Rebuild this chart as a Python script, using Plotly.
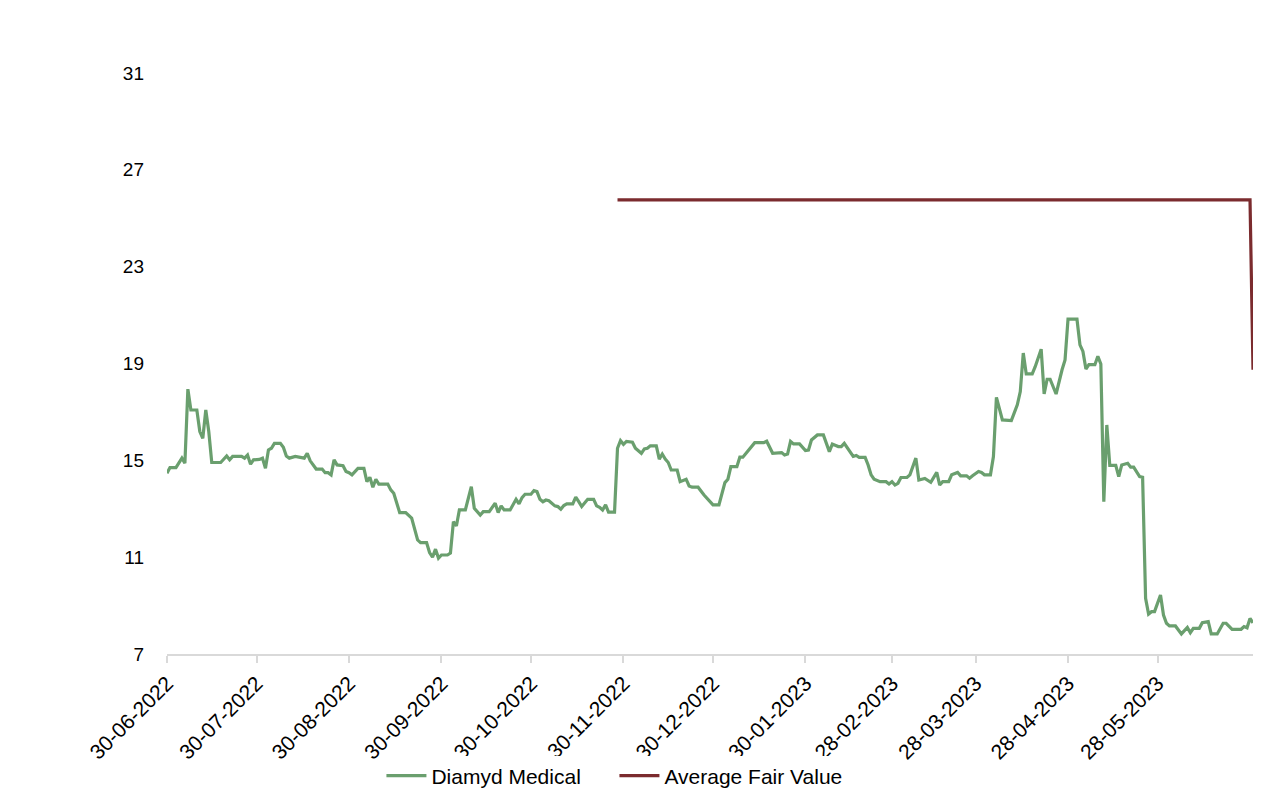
import pandas as pd
import plotly.graph_objects as go

START = "2022-06-30"

# Diamyd Medical share price: days since 30-06-2022 and closing value
price_days = [0, 1, 3, 5, 6, 7, 8, 10, 11, 12, 13, 14, 15, 18, 20, 21, 22, 25, 26, 27, 28, 29, 31, 32, 33, 34, 35, 36, 38, 39,
              40, 41, 43, 45, 46, 47, 48, 50, 52, 53, 54, 55, 56, 57, 59, 60, 61, 62, 64, 66, 67, 68, 69, 70, 71, 74, 75, 76, 78, 80,
              82, 84, 85, 87, 88, 89, 90, 91, 92, 94, 95, 96, 97, 98, 100, 102, 103, 105, 106, 108, 110, 111, 112, 113, 115, 117, 118, 119, 120, 122,
              123, 124, 125, 126, 127, 128, 130, 131, 132, 133, 134, 136, 137, 138, 139, 141, 143, 144, 145, 146, 147, 148, 150, 151, 152, 153, 154, 156, 157, 159,
              160, 161, 162, 164, 165, 166, 167, 168, 169, 171, 172, 174, 175, 176, 178, 180, 182, 183, 185, 187, 188, 189, 191, 192, 193, 195, 197, 200, 201, 203,
              204, 206, 207, 208, 209, 210, 212, 214, 215, 216, 218, 220, 222, 223, 225, 226, 227, 230, 231, 232, 234, 235, 236, 237, 239, 241, 242, 243, 244, 245,
              246, 248, 249, 251, 252, 254, 256, 258, 259, 260, 262, 263, 265, 266, 268, 269, 270, 272, 273, 274, 276, 277, 278, 280, 283, 285, 286, 287, 288, 290,
              291, 293, 294, 295, 296, 298, 300, 301, 302, 305, 306, 307, 308, 309, 311, 312, 313, 314, 315, 316, 318, 319, 320, 322, 323, 324, 326, 327, 328, 329,
              330, 331, 333, 334, 335, 336, 338, 340, 342, 343, 344, 346, 347, 349, 350, 352, 354, 355, 357, 360, 361, 362, 363, 364]
price_values = [14.47, 14.70, 14.70, 15.09, 14.88, 17.94, 17.08, 17.08, 16.19, 15.91, 17.08, 16.19, 14.91, 14.91, 15.18, 15.02, 15.16, 15.16, 15.09, 15.22, 14.84, 15.02, 15.04, 15.09, 14.67, 15.43, 15.50, 15.70, 15.70, 15.54,
                15.18, 15.09, 15.16, 15.13, 15.09, 15.29, 14.98, 14.64, 14.64, 14.49, 14.49, 14.40, 15.02, 14.81, 14.78, 14.54, 14.49, 14.40, 14.67, 14.67, 14.12, 14.30, 13.89, 14.22, 14.02, 14.02, 13.78, 13.64, 12.84, 12.84,
                12.61, 11.71, 11.60, 11.60, 11.19, 11.00, 11.33, 10.96, 11.09, 11.09, 11.17, 12.47, 12.29, 12.95, 12.95, 13.91, 13.02, 12.74, 12.88, 12.88, 13.23, 12.84, 13.12, 12.95, 12.95, 13.39, 13.20, 13.46, 13.60, 13.60,
                13.75, 13.71, 13.39, 13.29, 13.36, 13.33, 13.12, 13.09, 12.98, 13.13, 13.20, 13.20, 13.48, 13.29, 13.09, 13.39, 13.39, 13.12, 13.06, 12.95, 13.16, 12.86, 12.86, 15.50, 15.81, 15.66, 15.78, 15.75, 15.50, 15.29,
                15.47, 15.50, 15.60, 15.60, 15.05, 15.26, 15.05, 14.91, 14.60, 14.60, 14.12, 14.22, 13.94, 13.89, 13.89, 13.57, 13.29, 13.16, 13.16, 14.08, 14.22, 14.74, 14.74, 15.13, 15.13, 15.43, 15.73, 15.73, 15.79, 15.29,
                15.31, 15.32, 15.22, 15.26, 15.78, 15.68, 15.68, 15.40, 15.42, 15.84, 16.05, 16.05, 15.36, 15.67, 15.57, 15.57, 15.70, 15.16, 15.20, 15.12, 15.12, 14.81, 14.40, 14.22, 14.12, 14.12, 14.02, 14.12, 13.98, 14.05,
                14.29, 14.29, 14.40, 15.09, 14.19, 14.25, 14.09, 14.50, 13.98, 14.12, 14.12, 14.40, 14.50, 14.36, 14.36, 14.26, 14.36, 14.54, 14.50, 14.40, 14.40, 15.16, 17.60, 16.67, 16.64, 17.29, 17.84, 19.43, 18.57, 18.57,
                18.87, 19.59, 17.74, 18.35, 18.35, 17.74, 18.74, 19.15, 20.83, 20.83, 19.77, 19.50, 18.77, 18.95, 18.95, 19.30, 18.98, 13.29, 16.46, 14.79, 14.79, 14.33, 14.81, 14.88, 14.72, 14.72, 14.33, 14.30, 9.30, 8.65,
                8.75, 8.75, 9.44, 8.61, 8.27, 8.16, 8.16, 7.83, 8.10, 7.88, 8.06, 8.06, 8.29, 8.34, 7.83, 7.83, 8.27, 8.27, 8.02, 8.02, 8.13, 8.08, 8.47, 8.29]

# Average fair value
fair_days = [151, 363, 364]
fair_values = [25.76, 25.76, 18.74]

tick_dates = ["2022-06-30", "2022-07-30", "2022-08-30", "2022-09-30", "2022-10-30", "2022-11-30",
              "2022-12-30", "2023-01-30", "2023-02-28", "2023-03-28", "2023-04-28", "2023-05-28"]
tick_labels = ["30-06-2022", "30-07-2022", "30-08-2022", "30-09-2022", "30-10-2022", "30-11-2022",
               "30-12-2022", "30-01-2023", "28-02-2023", "28-03-2023", "28-04-2023", "28-05-2023"]
y_ticks = [7, 11, 15, 19, 23, 27, 31]

start = pd.Timestamp(START)
price_dates = start + pd.to_timedelta(price_days, unit="D")
fair_dates = start + pd.to_timedelta(fair_days, unit="D")

fig = go.Figure()
fig.add_trace(go.Scatter(x=price_dates, y=price_values, mode="lines", name="Diamyd Medical",
                         line=dict(color="#6a9f6e", width=3.2)))
fig.add_trace(go.Scatter(x=fair_dates, y=fair_values, mode="lines", name="Average Fair Value",
                         line=dict(color="#7b2b2e", width=3.2)))

font_family = "Liberation Sans, Arial, sans-serif"
fig.update_layout(
    width=1285, height=794,
    margin=dict(l=167, r=32, t=73, b=140, autoexpand=False),
    paper_bgcolor="white", plot_bgcolor="white",
    font=dict(family=font_family, size=18, color="#000000"),
    showlegend=True,
    legend=dict(orientation="h", x=0.412, xanchor="center", y=-0.21, yanchor="middle",
                font=dict(size=21, color="#000000"), itemwidth=40, entrywidth=178),
    xaxis=dict(type="date", range=[start, start + pd.Timedelta(days=364)], automargin=False,
               tickmode="array", tickvals=tick_dates, ticktext=tick_labels, tickangle=-45,
               showgrid=False, zeroline=False, showline=True, linecolor="#d9d9d9", linewidth=1.5,
               ticks="outside", ticklen=7, tickcolor="#d9d9d9", tickwidth=1.5,
               tickfont=dict(size=21, color="#000000")),
    yaxis=dict(range=[7, 31], tickmode="array", tickvals=y_ticks, showgrid=False, zeroline=False,
               automargin=False, showline=False, ticks="", ticklabelstandoff=22,
               tickfont=dict(size=19, color="#000000")),
)

fig.write_html("out.html")
